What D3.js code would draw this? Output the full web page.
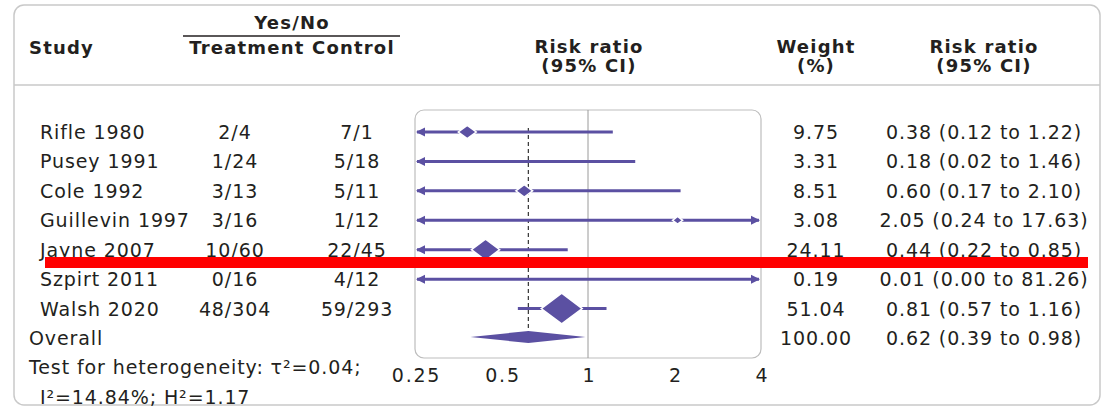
<!DOCTYPE html>
<html>
<head>
<meta charset="utf-8">
<script src="https://cdn.jsdelivr.net/npm/d3@7"></script>
<style>
  body { margin: 0; background: #fff; }
  svg text { font-family: "DejaVu Sans", sans-serif; fill: #231f20; }
  .hdr { font-weight: 700; font-size: 18px; letter-spacing: 1.2px; }
  .cell { font-size: 19px; letter-spacing: 0.9px; }
  .tick text { font-size: 19px; letter-spacing: 1.8px; }
</style>
</head>
<body>
<svg id="chart" width="1112" height="410"></svg>
<script>
// --- Data ---
var studies = ["Rifle 1980", "Pusey 1991", "Cole 1992", "Guillevin 1997", "Jayne 2007", "Szpirt 2011", "Walsh 2020"];
var treatment = ["2/4", "1/24", "3/13", "3/16", "10/60", "0/16", "48/304"];
var control = ["7/1", "5/18", "5/11", "1/12", "22/45", "4/12", "59/293"];
var weights = [9.75, 3.31, 8.51, 3.08, 24.11, 0.19, 51.04];
var rr = [0.38, 0.18, 0.60, 2.05, 0.44, 0.01, 0.81];
var rrLow = [0.12, 0.02, 0.17, 0.24, 0.22, 0.00, 0.57];
var rrHigh = [1.22, 1.46, 2.10, 17.63, 0.85, 81.26, 1.16];
var overall = { label: "Overall", weight: 100.00, rr: 0.62, lo: 0.39, hi: 0.98 };
var xTicks = [0.25, 0.5, 1, 2, 4];
var heterogeneity = ["Test for heterogeneity: τ²=0.04;", "I²=14.84%; H²=1.17"];

// --- Setup ---
var purple = "#5b50a2";
var svg = d3.select("#chart");

var rows = studies.concat([overall.label]);
var x = d3.scaleLog().base(2).domain([0.25, 4]).range([415, 761]);
var y = d3.scalePoint().domain(rows).range([132, 338]);
var size = d3.scaleSqrt().domain([0, 51.04]).range([0, 20.5]);

function fmt(v) { return d3.format(".2f")(v); }

// outer frame
svg.append("rect")
  .attr("x", 14).attr("y", 5)
  .attr("width", 1086).attr("height", 400)
  .attr("rx", 10)
  .attr("fill", "none")
  .attr("stroke", "#c9c9c9")
  .attr("stroke-width", 1.5);
svg.append("line")
  .attr("x1", 14).attr("x2", 1100)
  .attr("y1", 85).attr("y2", 85)
  .attr("stroke", "#c9c9c9")
  .attr("stroke-width", 1.5);

// --- Header ---
var hdr = svg.append("g");
hdr.append("text").attr("class", "hdr").attr("x", 29).attr("y", 54).text("Study");
hdr.append("text").attr("class", "hdr").attr("x", 292).attr("y", 29)
  .attr("text-anchor", "middle").text("Yes/No");
hdr.append("line")
  .attr("x1", 183).attr("x2", 400).attr("y1", 36).attr("y2", 36)
  .attr("stroke", "#231f20").attr("stroke-width", 1.5);
hdr.append("text").attr("class", "hdr").attr("x", 292).attr("y", 54)
  .attr("text-anchor", "middle").text("Treatment Control");

[[589, "Risk ratio", "(95% CI)"], [816, "Weight", "(%)"], [984, "Risk ratio", "(95% CI)"]]
  .forEach(function(h) {
    hdr.append("text").attr("class", "hdr").attr("x", h[0]).attr("y", 53)
      .attr("text-anchor", "middle").text(h[1]);
    hdr.append("text").attr("class", "hdr").attr("x", h[0]).attr("y", 72)
      .attr("text-anchor", "middle").text(h[2]);
  });

// --- Table columns ---
var tbl = svg.append("g");
studies.forEach(function(s, i) {
  var yy = y(s) + 7;
  tbl.append("text").attr("class", "cell").attr("x", 40).attr("y", yy).text(s);
  tbl.append("text").attr("class", "cell").attr("x", 235).attr("y", yy)
    .attr("text-anchor", "middle").text(treatment[i]);
  tbl.append("text").attr("class", "cell").attr("x", 357).attr("y", yy)
    .attr("text-anchor", "middle").text(control[i]);
  tbl.append("text").attr("class", "cell").attr("x", 816).attr("y", yy)
    .attr("text-anchor", "middle").text(fmt(weights[i]));
  tbl.append("text").attr("class", "cell").attr("x", 984).attr("y", yy)
    .attr("text-anchor", "middle")
    .text(fmt(rr[i]) + " (" + fmt(rrLow[i]) + " to " + fmt(rrHigh[i]) + ")");
});
var oy = y(overall.label) + 7;
tbl.append("text").attr("class", "cell").attr("x", 29).attr("y", oy).text(overall.label);
tbl.append("text").attr("class", "cell").attr("x", 816).attr("y", oy)
  .attr("text-anchor", "middle").text(fmt(overall.weight));
tbl.append("text").attr("class", "cell").attr("x", 984).attr("y", oy)
  .attr("text-anchor", "middle")
  .text(fmt(overall.rr) + " (" + fmt(overall.lo) + " to " + fmt(overall.hi) + ")");
tbl.append("text").attr("class", "cell").attr("x", 29).attr("y", 374).text(heterogeneity[0]);
tbl.append("text").attr("class", "cell").attr("x", 40).attr("y", 404).text(heterogeneity[1]);

// --- Forest plot ---
var plot = svg.append("g");
var x0 = x.range()[0], x1 = x.range()[1];
plot.append("rect")
  .attr("x", x0).attr("y", 110)
  .attr("width", x1 - x0).attr("height", 248)
  .attr("rx", 9)
  .attr("fill", "none")
  .attr("stroke", "#bdbdbd")
  .attr("stroke-width", 1.2);
plot.append("line")
  .attr("x1", x(1)).attr("x2", x(1))
  .attr("y1", 110).attr("y2", 358)
  .attr("stroke", "#9a9a9a").attr("stroke-width", 1);
plot.append("line")
  .attr("x1", x(overall.rr)).attr("x2", x(overall.rr))
  .attr("y1", y(studies[0]) - 4).attr("y2", y(overall.label))
  .attr("stroke", "#333").attr("stroke-width", 1.2)
  .attr("stroke-dasharray", "4,3");

function clampX(v) {
  if (v <= 0.25) return x0 + 2;
  if (v >= 4) return x1 - 2;
  return x(v);
}

studies.forEach(function(s, i) {
  var yy = y(s);
  plot.append("line")
    .attr("x1", clampX(rrLow[i])).attr("x2", clampX(rrHigh[i]))
    .attr("y1", yy).attr("y2", yy)
    .attr("stroke", purple).attr("stroke-width", 3);
  if (rrLow[i] < 0.25) {
    plot.append("path")
      .attr("d", "M" + (x0 + 1) + "," + yy + "l9,-4.5v9z")
      .attr("fill", purple);
  }
  if (rrHigh[i] > 4) {
    plot.append("path")
      .attr("d", "M" + (x1 - 1) + "," + yy + "l-9,-4.5v9z")
      .attr("fill", purple);
  }
  if (rr[i] >= 0.25 && rr[i] <= 4) {
    var w = size(weights[i]), h = w * 0.75, cx = x(rr[i]);
    plot.append("path")
      .attr("d", "M" + (cx - w) + "," + yy + "L" + cx + "," + (yy - h) +
        "L" + (cx + w) + "," + yy + "L" + cx + "," + (yy + h) + "Z")
      .attr("fill", purple)
      .attr("stroke", "#fff").attr("stroke-width", 1.5);
  }
});

// overall diamond
var oyc = y(overall.label) - 1;
plot.append("path")
  .attr("d", "M" + x(overall.lo) + "," + oyc + "L" + x(overall.rr) + "," + (oyc - 6) +
    "L" + x(overall.hi) + "," + oyc + "L" + x(overall.rr) + "," + (oyc + 6) + "Z")
  .attr("fill", purple);

// axis
var axis = svg.append("g")
  .attr("transform", "translate(0,362)")
  .call(d3.axisBottom(x).tickValues(xTicks).tickSize(0).tickFormat(function(d) { return d; }));
axis.select(".domain").remove();
axis.selectAll("text")
  .attr("dy", "0.9em")
  .attr("dx", "1px")
  .style("font-family", "'DejaVu Sans', sans-serif")
  .attr("fill", "#231f20");

// red annotation stroke
svg.append("rect")
  .attr("x", 45).attr("y", 257)
  .attr("width", 1043).attr("height", 11)
  .attr("fill", "#ff0000");
</script>
</body>
</html>
